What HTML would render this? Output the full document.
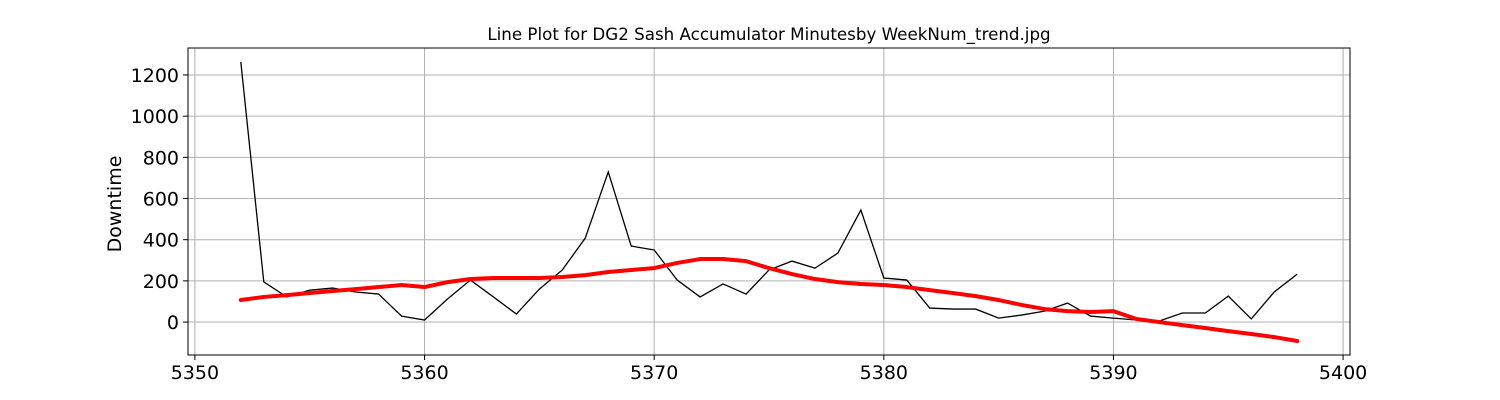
<!DOCTYPE html>
<html><head><meta charset="utf-8"><style>
html,body{margin:0;padding:0;background:#fff;}
svg{display:block;font-family:"DejaVu Sans","Liberation Sans",sans-serif;}
</style></head><body>
<svg id="chart" width="1500" height="400" xmlns="http://www.w3.org/2000/svg">
<text x="769" y="40" text-anchor="middle" font-size="16.7">Line Plot for DG2 Sash Accumulator Minutesby WeekNum_trend.jpg</text>
<text transform="translate(121,204) rotate(-90)" text-anchor="middle" font-size="19">Downtime</text>
<g id="grid"></g>
<g id="series"></g>
<g id="ticks"></g>
<rect x="188" y="48" width="1162" height="307" fill="none" stroke="#000" stroke-width="1"/>
</svg>
<script>
const weeks = [];
for (let w = 5352; w <= 5398; w++) weeks.push(w);
const downtime = [1263,195,122,155,165,146,136,29,10,112,204,122,39,160,253,408,729,369,350,204,122,185,136,253,296,262,335,544,214,204,68,63,63,19,34,53,92,29,19,10,5,44,44,126,15,146,233];
const trend = [107,122,131,141,151,160,170,180,170,194,209,214,214,214,219,228,243,253,262,287,306,306,296,262,233,209,194,185,180,170,155,141,126,107,83,63,53,49,53,15,0,-15,-29,-44,-58,-73,-92];
const xTicks = [5350,5360,5370,5380,5390,5400];
const yTicks = [0,200,400,600,800,1000,1200];
const L=188,R=1350,T=48,B=355;
const xMin=5349.7,xMax=5400.3,yMin=-160,yMax=1331;
const xs=v=>L+(v-xMin)/(xMax-xMin)*(R-L);
const ys=v=>B-(v-yMin)/(yMax-yMin)*(B-T);
const NS="http://www.w3.org/2000/svg";
function mk(tag,attrs,parent){const e=document.createElementNS(NS,tag);for(const k in attrs)e.setAttribute(k,attrs[k]);parent.appendChild(e);return e;}
const grid=document.getElementById('grid'),ticks=document.getElementById('ticks'),series=document.getElementById('series');
xTicks.forEach(t=>{const x=xs(t);
 const g=mk('line',{x1:x,x2:x,y1:T,y2:B,stroke:'#b0b0b0','stroke-width':1},grid);
 
 
 const tk=mk('line',{x1:x,x2:x,y1:B,y2:B+5,stroke:'#000'},ticks);
 
 
 const lb=mk('text',{x:x,y:B+24,'text-anchor':'middle','font-size':19},ticks);
 lb.textContent=t;
 
 
});
yTicks.forEach(t=>{const y=ys(t);
 const g=mk('line',{x1:L,x2:R,y1:y,y2:y,stroke:'#b0b0b0','stroke-width':1},grid);
 
 
 const tk=mk('line',{x1:L-5,x2:L,y1:y,y2:y,stroke:'#000'},ticks);
 
 
 const lb=mk('text',{x:L-9,y:y+7,'text-anchor':'end','font-size':19},ticks);
 lb.textContent=t;
 
 
});
const p1=mk('polyline',{points:weeks.map((w,i)=>xs(w)+','+ys(downtime[i])).join(' '),fill:'none',stroke:'#000','stroke-width':1.3},series);


const p2=mk('polyline',{points:weeks.map((w,i)=>xs(w)+','+ys(trend[i])).join(' '),fill:'none',stroke:'#ff0000','stroke-width':4,'stroke-linejoin':'round','stroke-linecap':'round'},series);


</script>
</body></html>
